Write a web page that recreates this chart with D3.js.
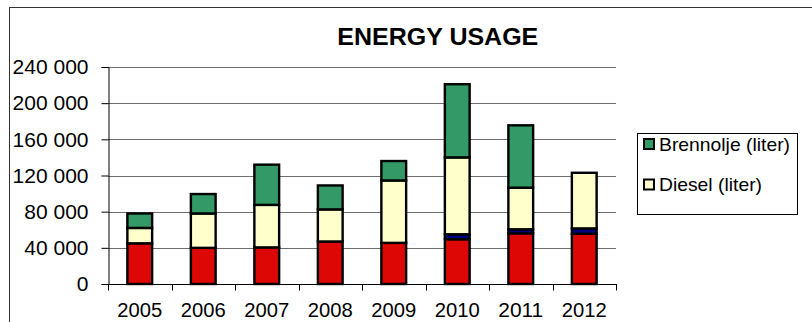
<!DOCTYPE html>
<html>
<head>
<meta charset="utf-8">
<script src="https://cdn.jsdelivr.net/npm/d3@7"></script>
<style>
  html, body { margin: 0; padding: 0; background: #fff; }
  svg { display: block; font-family: "Liberation Sans", Arial, sans-serif; }
</style>
</head>
<body>
<svg id="chart" width="812" height="322"></svg>
<script>
// ---- data ----
const years = ["2005", "2006", "2007", "2008", "2009", "2010", "2011", "2012"];
const seriesRed = [45000, 40000, 40500, 47000, 45500, 49500, 56000, 55500];
const seriesBlue = [0, 0, 0, 0, 0, 5500, 4500, 6000];
const dieselLiter = [17000, 38000, 47000, 35500, 69000, 85000, 46000, 61500];
const brennoljeLiter = [16000, 21500, 44500, 26500, 21500, 81000, 69000, 0];
const yTicks = [0, 40000, 80000, 120000, 160000, 200000, 240000];
const legendLabels = ["Brennolje (liter)", "Diesel (liter)"];
const titleText = "ENERGY USAGE";

const keys = ["red", "blue", "diesel", "brennolje"];
const colors = { red: "#DD0806", blue: "#000080", diesel: "#FFFFCC", brennolje: "#339966" };
const table = years.map((y, i) => ({
  year: y, red: seriesRed[i], blue: seriesBlue[i], diesel: dieselLiter[i], brennolje: brennoljeLiter[i]
}));

const svg = d3.select("#chart");
const plot = { left: 108, right: 616, top: 67, bottom: 284 };

// outer chart frame (extends past right/bottom edges)
svg.append("rect")
  .attr("x", 9.5).attr("y", 7.5).attr("width", 900).attr("height", 400)
  .attr("fill", "none").attr("stroke", "#333").attr("stroke-width", 1);

const x = d3.scaleBand().domain(years).range([plot.left, plot.right]).padding(0);
const y = d3.scaleLinear().domain([0, 240000]).range([plot.bottom, plot.top]);

const loc = d3.formatLocale({ thousands: "\u00a0", grouping: [3], decimal: ",", currency: ["", ""] });
const fmt = loc.format(",");

// gridlines
svg.append("g").selectAll("line").data(yTicks.filter(d => d > 0)).join("line")
  .attr("x1", plot.left).attr("x2", plot.right)
  .attr("y1", d => Math.round(y(d)) + 0.5).attr("y2", d => Math.round(y(d)) + 0.5)
  .attr("stroke", "#6e6e6e").attr("stroke-width", 1);

// y axis
const yAxis = svg.append("g")
  .attr("transform", `translate(${plot.left + 0.5},0)`)
  .call(d3.axisLeft(y).tickValues(yTicks).tickFormat(fmt).tickSizeOuter(0).tickSize(7).tickPadding(13));
yAxis.select(".domain").attr("stroke", "#000");
yAxis.selectAll(".tick line").attr("stroke", "#000");
yAxis.selectAll("text").attr("font-size", 21).attr("fill", "#000")
  .attr("font-family", "'Liberation Sans', Arial, sans-serif");

// bars
const stack = d3.stack().keys(keys)(table);
const barW = x.bandwidth() * 0.39;
svg.append("g").selectAll("g").data(stack).join("g")
  .attr("fill", d => colors[d.key])
  .selectAll("rect").data(d => d).join("rect")
  .attr("x", d => x(d.data.year) + (x.bandwidth() - barW) / 2)
  .attr("width", barW)
  .attr("y", d => y(d[1]))
  .attr("height", d => y(d[0]) - y(d[1]))
  .attr("stroke", "#000").attr("stroke-width", 2.4);

// x axis
const xAxisG = svg.append("g").attr("transform", `translate(0,${plot.bottom + 0.5})`);
xAxisG.append("line").attr("x1", plot.left).attr("x2", plot.right + 1)
  .attr("stroke", "#000");
const boundaries = years.map(d => x(d)).concat([x(years[years.length - 1]) + x.bandwidth()]);
xAxisG.selectAll(".bt").data(boundaries).join("line").attr("class", "bt")
  .attr("x1", d => Math.round(d) + 0.5).attr("x2", d => Math.round(d) + 0.5)
  .attr("y1", 0).attr("y2", 6).attr("stroke", "#000");
const xAxis = svg.append("g").attr("transform", `translate(0,${plot.bottom})`)
  .call(d3.axisBottom(x).tickSize(0).tickPadding(18));
xAxis.select(".domain").remove();
xAxis.selectAll("text").attr("font-size", 20.5).attr("fill", "#000")
  .attr("font-family", "'Liberation Sans', Arial, sans-serif")
  .attr("textLength", 45).attr("lengthAdjust", "spacingAndGlyphs");

// title
svg.append("text").attr("x", 437.8).attr("y", 45).attr("text-anchor", "middle")
  .attr("font-size", 23).attr("font-weight", "bold").attr("fill", "#000")
  .attr("textLength", 201).attr("lengthAdjust", "spacingAndGlyphs")
  .text(titleText);

// legend
const legendWidths = [131, 103];
const lg = svg.append("g");
lg.append("rect").attr("x", 637.5).attr("y", 133.5).attr("width", 160).attr("height", 81)
  .attr("fill", "#fff").attr("stroke", "#000").attr("stroke-width", 1);
const legendKeys = ["brennolje", "diesel"];
const items = lg.selectAll(".li").data(legendKeys).join("g").attr("class", "li")
  .attr("transform", (d, i) => `translate(0,${i * 40.5})`);
items.append("rect").attr("x", 644).attr("y", 139).attr("width", 10).attr("height", 10)
  .attr("fill", d => colors[d]).attr("stroke", "#000").attr("stroke-width", 2);
items.append("text").attr("x", 659).attr("y", 150.5).attr("font-size", 19).attr("fill", "#000")
  .attr("textLength", (d, i) => legendWidths[i]).attr("lengthAdjust", "spacingAndGlyphs")
  .text((d, i) => legendLabels[i]);
</script>
</body>
</html>
